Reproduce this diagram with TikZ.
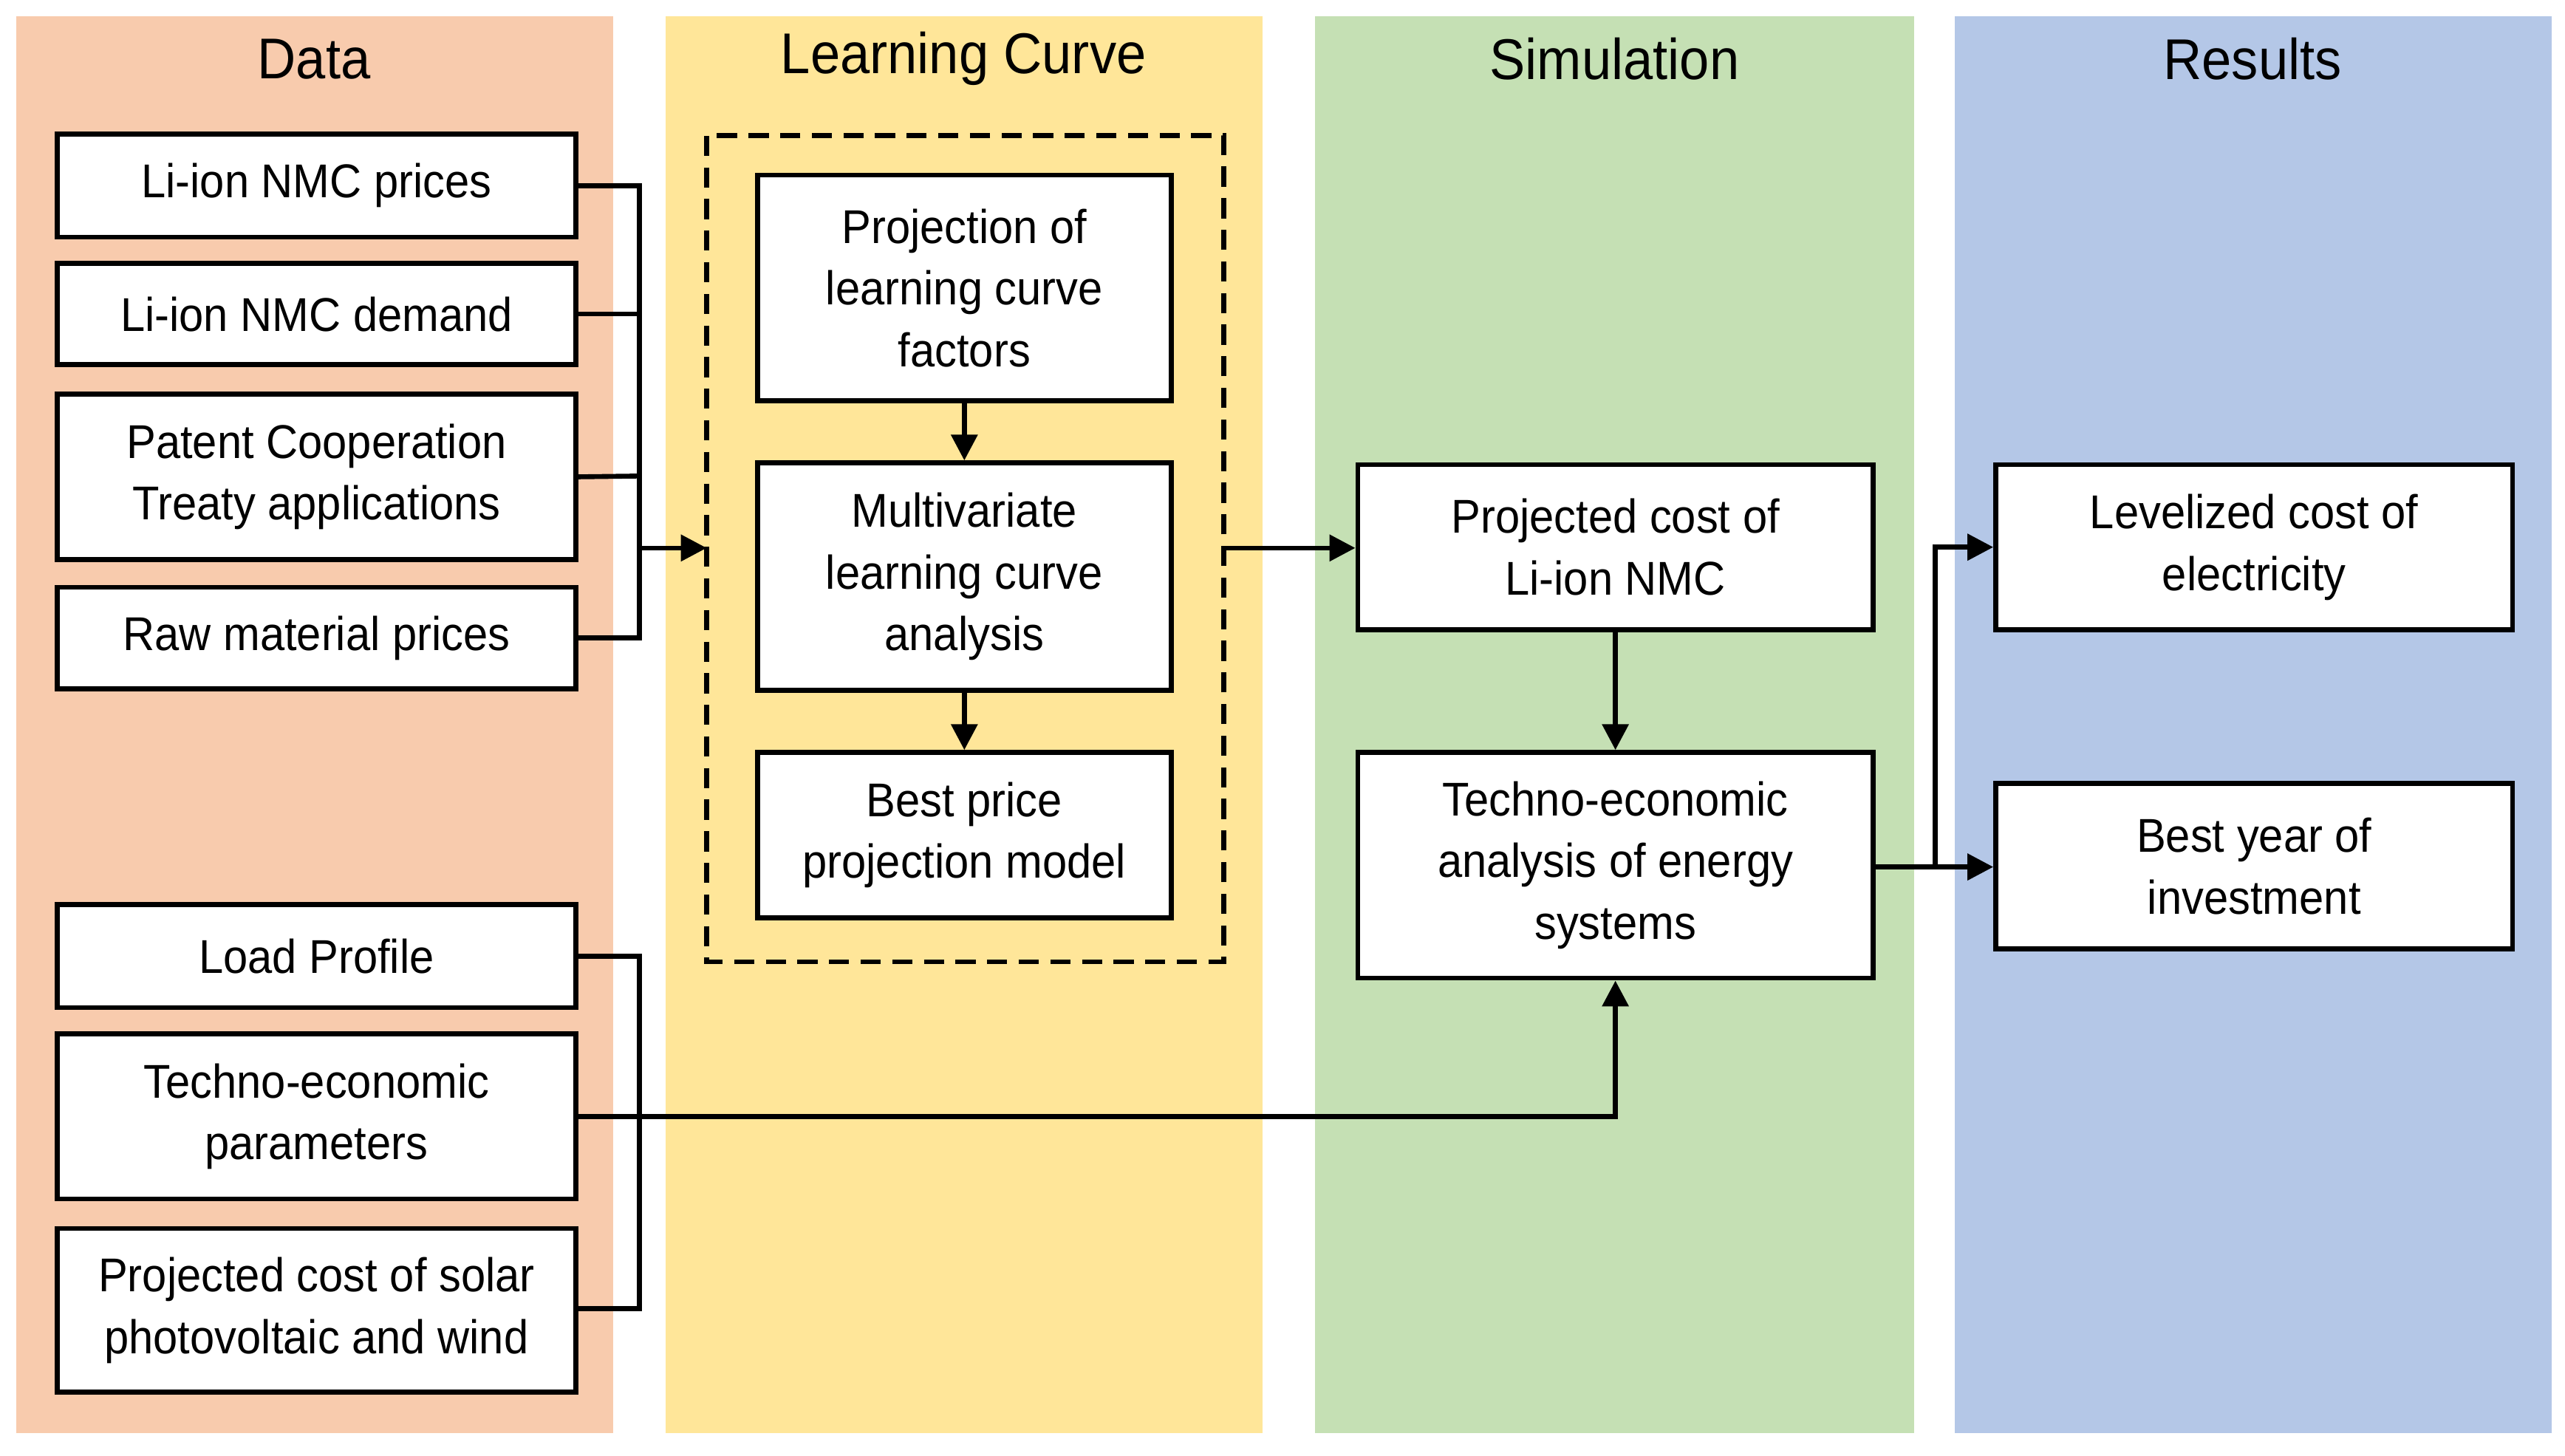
\documentclass[tikz,border=0pt]{standalone}
\usepackage{fontspec}
\setmainfont[FakeStretch=0.93]{Liberation Sans}
\usetikzlibrary{arrows.meta}
\definecolor{cD}{HTML}{F8CBAD}\definecolor{cL}{HTML}{FFE699}
\definecolor{cS}{HTML}{C5E0B4}\definecolor{cR}{HTML}{B4C7E7}
\begin{document}
\begin{tikzpicture}[x=0.02cm,y=-0.02cm,
 box/.style={draw,line width=1.7pt,fill=white,align=center,inner sep=0pt,font=\fontsize{16.5}{21.5}\selectfont},
 hdr/.style={font=\fontsize{20}{24}\selectfont},
 ln/.style={line width=1.7pt},
 arr/.style={line width=1.7pt,-{Triangle[length=9pt,width=9pt]}}]
\useasboundingbox (0,0) rectangle (1568,890);
\fill[white] (0,0) rectangle (1568,890);
\fill[cD] (10,10) rectangle (375,876);
\fill[cL] (407,10) rectangle (772,876);
\fill[cS] (804,10) rectangle (1170,876);
\fill[cR] (1195,10) rectangle (1560,876);
\node[hdr] (hD) at (192,36) {Data};
\node[hdr] (hL) at (589,36) {Learning Curve};
\node[hdr] (hS) at (987,36) {Simulation};
\node[hdr] (hR) at (1377,36) {Results};
\newcommand{\bx}[6]{\node[box,minimum width={(#4-#2)*0.02cm},minimum height={(#5-#3)*0.02cm}] (#1) at ({(#2+#4)/2},{(#3+#5)/2}) {#6};}
\bx{d1}{35}{82}{352}{145}{Li-ion NMC prices}
\bx{d2}{35}{161}{352}{223}{Li-ion NMC demand}
\bx{d3}{35}{241}{352}{342}{Patent Cooperation\\Treaty applications}
\bx{d4}{35}{359}{352}{421}{Raw material  prices}
\bx{d5}{35}{553}{352}{616}{Load Profile}
\bx{d6}{35}{632}{352}{733}{Techno-economic\\parameters}
\bx{d7}{35}{751}{352}{851}{Projected cost of solar\\photovoltaic and wind}
\draw[line width=1.7pt,dashed,dash pattern=on 7pt off 4pt] (432,83) rectangle (748,588);
\coordinate (dl) at (432,335); \coordinate (dr) at (748,335);
\bx{l1}{463}{107}{716}{245}{Projection of\\learning curve\\factors}
\bx{l2}{463}{283}{716}{422}{Multivariate\\learning curve\\analysis}
\bx{l3}{463}{460}{716}{561}{Best price\\projection model}
\bx{s1}{830}{284}{1145}{385}{Projected cost of\\Li-ion NMC}
\bx{s2}{830}{460}{1145}{598}{Techno-economic\\analysis of energy\\systems}
\bx{r1}{1220}{284}{1536}{385}{Levelized cost of\\electricity}
\bx{r2}{1220}{479}{1536}{580}{Best year of\\investment}
\draw[ln] (d1.east) -| (391,390) -- (d4.east);
\draw[ln] (d2.east) -- (391,192);
\draw[ln] (d3.east) -- (391,291);
\draw[arr] (391,335) -- (dl);
\draw[ln] (d5.east) -| (391,800) -- (d7.east |- 0,800);
\draw[arr] (d6.east) -| (s2.south);
\draw[arr] (l1) -- (l2);
\draw[arr] (l2) -- (l3);
\draw[arr] (dr) -- (s1.west |- dr);
\draw[arr] (s1) -- (s2);
\coordinate (j) at (1183,530);
\draw[arr] (s2.east |- j) -- (r2.west |- j);
\draw[arr] (j) |- (r1.west);
\end{tikzpicture}
\end{document}
